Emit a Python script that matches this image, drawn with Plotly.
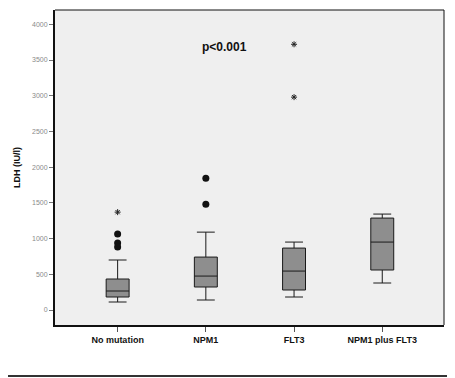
import plotly.graph_objects as go

categories = ["No mutation", "NPM1", "FLT3", "NPM1 plus FLT3"]
q1 = [182, 322, 280, 560]
median = [266, 475, 545, 951]
q3 = [434, 741, 867, 1287]
lower_whisker = [112, 140, 182, 378]
upper_whisker = [700, 1090, 951, 1343]

circle_cats = ["No mutation", "No mutation", "No mutation", "NPM1", "NPM1"]
circle_vals = [1063, 937, 881, 1482, 1846]
star_cats = ["No mutation", "FLT3", "FLT3"]
star_vals = [1370, 2980, 3720]

y_ticks = [0, 500, 1000, 1500, 2000, 2500, 3000, 3500, 4000]

FONT = "Liberation Sans, Arial, sans-serif"

fig = go.Figure()
fig.add_trace(go.Box(
    x=categories, q1=q1, median=median, q3=q3,
    lowerfence=lower_whisker, upperfence=upper_whisker,
    boxpoints=False, width=0.26, whiskerwidth=0.78,
    fillcolor="#8e8e8e", line=dict(color="#1a1a1a", width=1),
    showlegend=False, hoverinfo="skip"))
fig.add_trace(go.Scatter(
    x=circle_cats, y=circle_vals, mode="markers",
    marker=dict(symbol="circle", size=7, color="#111111"),
    showlegend=False))
fig.add_trace(go.Scatter(
    x=star_cats, y=star_vals, mode="markers",
    marker=dict(symbol="asterisk-open", size=5, color="#222222",
                line=dict(width=1, color="#222222")),
    showlegend=False))

fig.add_annotation(x=0.437, y=0.911, xref="paper", yref="paper", text="<b>p&lt;0.001</b>",
                   showarrow=False, font=dict(family=FONT, size=12, color="#111111"))

# plot-area frame (top and right)
fig.add_shape(type="line", xref="paper", yref="paper", x0=0, x1=1, y0=1, y1=1,
              line=dict(color="#111111", width=1))
fig.add_shape(type="line", xref="paper", yref="paper", x0=1, x1=1, y0=0, y1=1,
              line=dict(color="#111111", width=1))
# outer figure border (right and bottom)
fig.add_shape(type="line", xref="paper", yref="paper", x0=1.0206, x1=1.0206, y0=-0.162, y1=1.03,
              line=dict(color="#aaaaaa", width=1))
fig.add_shape(type="line", xref="paper", yref="paper", x0=-0.15, x1=1.0206, y0=-0.162, y1=-0.162,
              line=dict(color="#333333", width=2))

fig.update_layout(
    width=447, height=370,
    margin=dict(l=47, r=11, t=2, b=53),
    paper_bgcolor="white", plot_bgcolor="#efefef",
    font=dict(family=FONT),
    xaxis=dict(type="category", categoryorder="array", categoryarray=categories,
               range=[-0.71, 3.70], showline=True, linecolor="#111111", linewidth=2,
               mirror=False, ticks="outside", ticklen=5, tickcolor="#555555",
               tickfont=dict(family=FONT, size=9, color="#111111"),
               showgrid=False, zeroline=False,
               tickvals=categories,
               ticktext=["<b>" + c + "</b>" for c in categories]),
    yaxis=dict(range=[-210, 4200], tickvals=y_ticks, ticks="outside", ticklen=4,
               tickcolor="#777777", showline=True, linecolor="#111111", linewidth=2,
               tickfont=dict(family=FONT, size=7, color="#8a8a8a"),
               showgrid=False, zeroline=False,
               title=dict(text="<b>LDH (IU/l)</b>", font=dict(family=FONT, size=9, color="#111111"),
                          standoff=10)),
)

fig.write_html("out.html")
